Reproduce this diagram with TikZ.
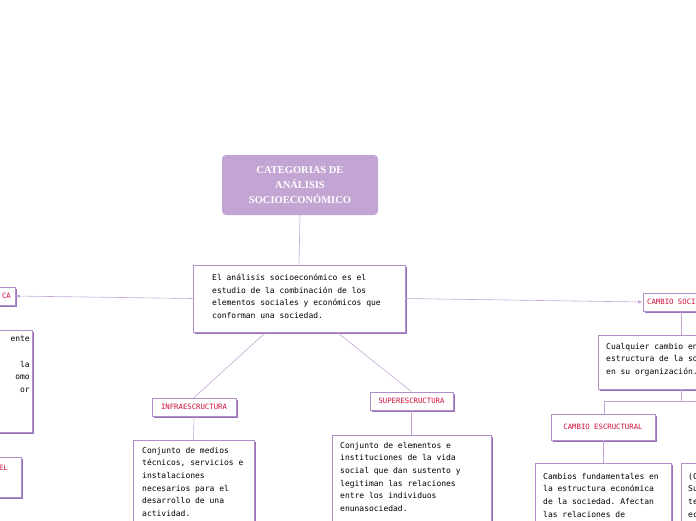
\documentclass[tikz,border=0pt]{standalone}
\usepackage{fontspec}
\usetikzlibrary{shadows}
\setmainfont{Liberation Serif}
\setmonofont{DejaVu Sans Mono}
\begin{document}
\begin{tikzpicture}[x=1pt,y=-1pt,
  lnk/.style={draw=lnc,line width=0.6pt},
  card/.style={draw=bdc,line width=0.7pt,fill=white,
    drop shadow={shadow xshift=1.6pt,shadow yshift=-1.6pt,fill=shc,opacity=1}},
  desc/.style={font=\ttfamily\fontsize{8}{12.6}\selectfont,align=left,anchor=north west,inner sep=0pt},
  lbl/.style={font=\ttfamily\fontsize{7.3}{9}\selectfont,text=lblc,anchor=center,inner sep=0pt}]
\definecolor{lnc}{HTML}{C3A6D6}
\definecolor{bdc}{HTML}{B090C8}
\definecolor{shc}{HTML}{9A70B8}
\definecolor{lblc}{HTML}{D0103A}
\definecolor{ttl}{HTML}{C2A5D2}
\useasboundingbox (0,0) rectangle (696,520);
\clip (0,0) rectangle (696,520);
% title
\node[fill=ttl,rounded corners=4pt,minimum width=156pt,minimum height=60pt,inner sep=0pt,
  text=white,font=\bfseries\fontsize{10.5}{15}\selectfont,align=center] (title) at (300,185)
  {CATEGORIAS DE\\ANÁLISIS\\SOCIOECONÓMICO};
% main
\node[card,minimum width=212pt,minimum height=67pt,inner sep=0pt] (main) at (299,298.5) {};
\node[desc] (maint) at (212,274) {El análisis socioeconómico es el\\estudio de la combinación de los\\elementos sociales y económicos que\\conforman una sociedad.};
\draw[lnk] (title.south) -- (main.north);
% left
\node[card,minimum width=50pt,minimum height=18pt,inner sep=0pt] (lft) at (-10,296) {};
\node[lbl,anchor=east] (lftt) at (11,296) {CA};
\draw[lnk,-latex] (main.west) -- (lft.east);
\node[card,minimum width=60pt,minimum height=102pt,inner sep=0pt] (ld) at (2,381) {};
\node[desc,anchor=north east,align=right] (ldt) at (30,336) {ente\\\strut\\la\\omo\\or};
\node[card,minimum width=50pt,minimum height=40pt,inner sep=0pt] (lb) at (-4,477) {};
\node[lbl,anchor=east] (lbt) at (8,468) {EL};
% infra
\node[card,minimum width=84pt,minimum height=18pt,inner sep=0pt] (inf) at (194,407) {};
\node[lbl] (inft) at (194,407) {INFRAESCRUCTURA};
\draw[lnk] (265,333) -- (inf.north);
\node[card,minimum width=121pt,minimum height=100pt,inner sep=0pt] (infd) at (193.5,490) {};
\node[desc] (infdt) at (142,447) {Conjunto de medios\\técnicos, servicios e\\instalaciones\\necesarios para el\\desarrollo de una\\actividad.};
\draw[lnk] (inf.south) -- (infd.north);
% super
\node[card,minimum width=83pt,minimum height=18pt,inner sep=0pt] (sup) at (411.5,401) {};
\node[lbl] (supt) at (411.5,401) {SUPERESCRUCTURA};
\draw[lnk] (338,333) -- (sup.north);
\node[card,minimum width=159pt,minimum height=100pt,inner sep=0pt] (supd) at (411.5,485) {};
\node[desc] (supdt) at (340,442) {Conjunto de elementos e\\instituciones de la vida\\social que dan sustento y\\legitiman las relaciones\\entre los individuos\\enunasociedad.};
\draw[lnk] (sup.south) -- (supd.north);
% cambio social
\node[card,minimum width=70pt,minimum height=18pt,inner sep=0pt] (cs) at (678,302) {};
\node[lbl,anchor=west] (cst) at (647,302) {CAMBIO SOCIAL};
\draw[lnk,-latex] (main.east) -- (cs.west);
\node[card,minimum width=110pt,minimum height=54pt,inner sep=0pt] (csd) at (653,362) {};
\node[desc] (csdt) at (606,343) {Cualquier cambio en la\\estructura de la sociedad\\en su organización.};
\draw[lnk] (681,311) -- (681,335);
\coordinate (fork) at (681,401);
\draw[lnk] (681,389) -- (fork);
\draw[lnk] (604,414) |- (700,401);
\node[card,minimum width=104pt,minimum height=26pt,inner sep=0pt] (ce) at (603,427) {};
\node[lbl] (cet) at (603,427) {CAMBIO ESCRUCTURAL};
\node[card,minimum width=136pt,minimum height=70pt,inner sep=0pt] (ced) at (603,498) {};
\node[desc] (cedt) at (543,473) {Cambios fundamentales en\\la estructura económica\\de la sociedad. Afectan\\las relaciones de};
\draw[lnk] (ce.south) -- (ced.north);
\node[card,minimum width=40pt,minimum height=70pt,inner sep=0pt] (cr) at (701,498) {};
\node[desc] (crt) at (688,473) {(C\\Su\\te\\ec};
\end{tikzpicture}
\end{document}
